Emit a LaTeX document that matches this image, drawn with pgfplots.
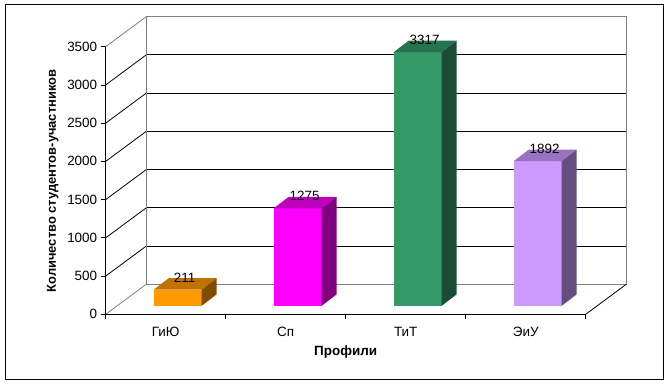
\documentclass[border=0pt]{standalone}
\usepackage{fontspec}
\setmainfont{Liberation Sans}
\usepackage{pgfplots}
\pgfplotsset{compat=1.18}
\definecolor{orF}{HTML}{FF9900}\definecolor{orT}{HTML}{BF7300}\definecolor{orS}{HTML}{7F4C00}
\definecolor{mgF}{HTML}{FF00FF}\definecolor{mgT}{HTML}{BF00BF}\definecolor{mgS}{HTML}{800080}
\definecolor{grF}{HTML}{339966}\definecolor{grT}{HTML}{267350}\definecolor{grS}{HTML}{1A4D33}
\definecolor{lvF}{HTML}{CC99FF}\definecolor{lvT}{HTML}{9973BF}\definecolor{lvS}{HTML}{664D80}
\definecolor{wall}{HTML}{808080}
\begin{document}
\begin{tikzpicture}
\useasboundingbox (-105.7bp,-70.7bp) rectangle (563.3bp,314.3bp);
\begin{axis}[
  at={(0,0)}, anchor=south west,
  scale only axis, width=520.5bp, height=297.6bp,
  xmin=-0.5, xmax=3.8375, ymin=0, ymax=3892,
  clip=false,
  axis x line*=bottom, axis y line*=left,
  axis line style={draw=none},
  tick align=outside,
  ytick={0,500,...,3500},
  major tick length=5bp, minor tick length=5bp,
  y tick style={black, line width=0.8bp},
  xtick={0,1,2,3},
  xticklabels={ГиЮ,Сп,ТиТ,ЭиУ},
  major x tick style={draw=none},
  minor xtick={-0.5,0.5,1.5,2.5,3.5},
  minor x tick style={black, line width=0.8bp},
  /pgf/number format/assume math mode=true,
  /pgf/number format/1000 sep={},
  ticklabel style={font=\fontsize{13.5}{15}\selectfont, text=black},
  xticklabel style={anchor=base, yshift=-17bp},
  every axis y label/.style={at={(axis description cs:-0.1018,0.448)}, rotate=90, anchor=center, font=\bfseries\fontsize{13}{15}\selectfont},
  every axis x label/.style={at={(axis description cs:0.4611,-0.1277)}, anchor=center, font=\bfseries\fontsize{13.5}{15}\selectfont},
  ylabel={Количество студентов-участников},
  xlabel={Профили},
  nodes near coords style={font=\fontsize{13.5}{15}\selectfont, anchor=center, xshift=7bp, yshift=12bp},
]
% left wall diagonals and back gridlines
\draw[wall, line width=0.8bp] (axis cs:-0.5,0) -- (axis cs:-0.1625,392);
\pgfplotsinvokeforeach{500,1000,1500,2000,2500,3000}{
  \draw[black, line width=0.8bp] (axis cs:-0.5,#1) -- (axis cs:-0.1625,#1+392);
  \draw[black, line width=1bp] (axis cs:-0.1625,#1+392) -- (axis cs:3.8375,#1+392);
}
\draw[wall, line width=0.8bp] (axis cs:-0.5,3500) -- (axis cs:-0.1625,3892);
% back wall frame
\draw[wall, line width=1bp] (axis cs:-0.1625,392) rectangle (axis cs:3.8375,3892);
% floor right edge
\draw[black, line width=0.8bp] (axis cs:3.5,0) -- (axis cs:3.8375,392);
% front axes
\draw[black, line width=1bp] (axis cs:-0.5,0) -- (axis cs:3.5,0);
\draw[black, line width=1bp] (axis cs:-0.5,0) -- (axis cs:-0.5,3500);
% bars
\addplot[ybar, bar width=48bp, bar shift=0bp, fill=orF, draw=none, xshift=12bp, yshift=8.5bp, nodes near coords] coordinates {(0,211)};
\addplot[fill=orT, draw=none, xshift=12bp, yshift=8.5bp] coordinates {(-0.2,211) (0.2,211) (0.325,361) (-0.075,361)} -- cycle;
\addplot[fill=orS, draw=none, xshift=12bp, yshift=8.5bp] coordinates {(0.2,0) (0.325,150) (0.325,361) (0.2,211)} -- cycle;
\addplot[ybar, bar width=48bp, bar shift=0bp, fill=mgF, draw=none, xshift=12bp, yshift=8.5bp, nodes near coords] coordinates {(1,1275)};
\addplot[fill=mgT, draw=none, xshift=12bp, yshift=8.5bp] coordinates {(0.8,1275) (1.2,1275) (1.325,1425) (0.925,1425)} -- cycle;
\addplot[fill=mgS, draw=none, xshift=12bp, yshift=8.5bp] coordinates {(1.2,0) (1.325,150) (1.325,1425) (1.2,1275)} -- cycle;
\addplot[ybar, bar width=48bp, bar shift=0bp, fill=grF, draw=none, xshift=12bp, yshift=8.5bp, nodes near coords] coordinates {(2,3317)};
\addplot[fill=grT, draw=none, xshift=12bp, yshift=8.5bp] coordinates {(1.8,3317) (2.2,3317) (2.325,3467) (1.925,3467)} -- cycle;
\addplot[fill=grS, draw=none, xshift=12bp, yshift=8.5bp] coordinates {(2.2,0) (2.325,150) (2.325,3467) (2.2,3317)} -- cycle;
\addplot[ybar, bar width=48bp, bar shift=0bp, fill=lvF, draw=none, xshift=12bp, yshift=8.5bp, nodes near coords] coordinates {(3,1892)};
\addplot[fill=lvT, draw=none, xshift=12bp, yshift=8.5bp] coordinates {(2.8,1892) (3.2,1892) (3.325,2042) (2.925,2042)} -- cycle;
\addplot[fill=lvS, draw=none, xshift=12bp, yshift=8.5bp] coordinates {(3.2,0) (3.325,150) (3.325,2042) (3.2,1892)} -- cycle;
\end{axis}
\draw[black, line width=1bp] (-100.2bp,-65bp) rectangle (557.3bp,309.3bp);
\end{tikzpicture}
\end{document}
